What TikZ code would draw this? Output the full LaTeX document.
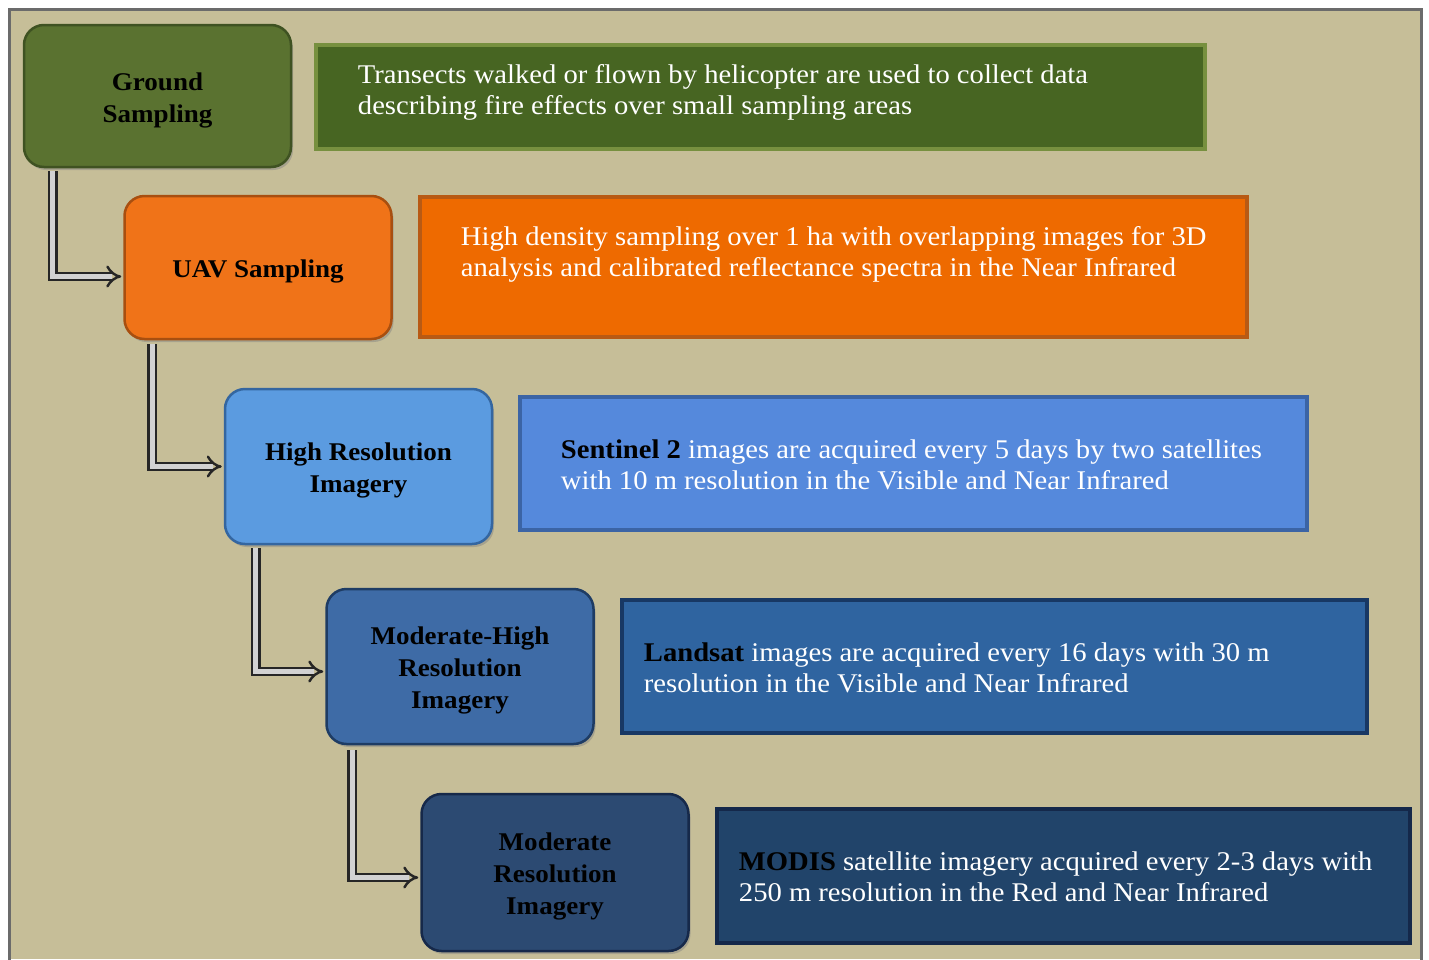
\documentclass[tikz,border=0pt]{standalone}
\usepackage{fontspec}
\setmainfont[FakeStretch=1.06]{Liberation Serif}
\usetikzlibrary{arrows.meta, shadows}

\definecolor{bgtan}{HTML}{C6BE98}
\definecolor{framegray}{HTML}{6B6B6B}
\definecolor{grnbox}{HTML}{5A7230}
\definecolor{grnedge}{HTML}{3F5222}
\definecolor{grnfill}{HTML}{476522}
\definecolor{grnline}{HTML}{77903F}
\definecolor{orgbox}{HTML}{F07318}
\definecolor{orgedge}{HTML}{A84F10}
\definecolor{orgfill}{HTML}{EE6A00}
\definecolor{orgline}{HTML}{B85A14}
\definecolor{ltbbox}{HTML}{5B9BE0}
\definecolor{ltbedge}{HTML}{3466A0}
\definecolor{ltbfill}{HTML}{5589DC}
\definecolor{ltbline}{HTML}{3B64A5}
\definecolor{midbox}{HTML}{3E6BA6}
\definecolor{midedge}{HTML}{1E3C64}
\definecolor{midfill}{HTML}{2F64A0}
\definecolor{midline}{HTML}{183864}
\definecolor{dkbbox}{HTML}{2C4A72}
\definecolor{dkbedge}{HTML}{16294A}
\definecolor{dkbfill}{HTML}{21446A}
\definecolor{dkbline}{HTML}{14284A}

% strut that lowers the stage titles a little
\newcommand{\stagestrut}{\rule{0pt}{26pt}}

\tikzset{
  stagebox/.style={rounded corners=20pt, line width=2.5pt, align=center,
    minimum width=267pt, font=\fontsize{25.5}{32}\selectfont\bfseries,
    drop shadow={shadow xshift=2pt, shadow yshift=-3pt, opacity=0.45}},
  descbox/.style={line width=4.5pt, minimum width=#1},
  desctext/.style={text=white, align=left, anchor=north west, inner sep=0pt,
    font=\fontsize{27}{31}\selectfont},
  elbow/.style={draw=black!85, line width=2.4pt, double=gray!35,
    double distance=5pt, -{Implies}, shorten >=2pt}
}

\begin{document}
\begin{tikzpicture}[x=1pt, y=-1pt]
    \useasboundingbox (0,0) rectangle (1429,959);
    % Frame
    \fill[bgtan] (11,11) rectangle (1420,959);
    \draw[framegray, line width=3pt] (9.5,962) -- (9.5,9.5) -- (1421.5,9.5) -- (1421.5,962);

    % Stages
    \node[stagebox, fill=grnbox, draw=grnedge, minimum height=142pt] (ground) at (157.5,96) {\stagestrut Ground\\Sampling};
    \node[stagebox, fill=orgbox, draw=orgedge, minimum height=143pt] (uav) at (258,267.5) {\stagestrut UAV Sampling};
    \node[stagebox, fill=ltbbox, draw=ltbedge, minimum height=155pt] (hires) at (358.5,466.5) {\stagestrut High Resolution\\Imagery};
    \node[stagebox, fill=midbox, draw=midedge, minimum height=155pt] (modhigh) at (460,666.5) {\stagestrut Moderate-High\\Resolution\\Imagery};
    \node[stagebox, fill=dkbbox, draw=dkbedge, minimum height=157pt] (moderate) at (555,872.5) {\stagestrut Moderate\\Resolution\\Imagery};

    % Descriptions
    \node[descbox=889pt, fill=grnfill, draw=grnline, minimum height=104pt] (grounddesc) at (760.5,97) {};
    \node[descbox=827pt, fill=orgfill, draw=orgline, minimum height=140pt] (uavdesc) at (833.5,267) {};
    \node[descbox=787pt, fill=ltbfill, draw=ltbline, minimum height=133pt] (hiresdesc) at (913.5,463.5) {};
    \node[descbox=745pt, fill=midfill, draw=midline, minimum height=133pt] (modhighdesc) at (994.5,666.5) {};
    \node[descbox=693pt, fill=dkbfill, draw=dkbline, minimum height=134pt] (moderatedesc) at (1063.5,876) {};

    \node[desctext] (groundtxt) at ([xshift=44pt, yshift=-22pt]grounddesc.north west)
      {Transects walked or flown by helicopter are used to collect data\\describing fire effects over small sampling areas};
    \node[desctext] (uavtxt) at ([xshift=43pt, yshift=-32pt]uavdesc.north west)
      {High density sampling over 1 ha with overlapping images for 3D\\analysis and calibrated reflectance spectra in the Near Infrared};
    \node[desctext] (hirestxt) at ([xshift=43pt, yshift=-45pt]hiresdesc.north west)
      {\textcolor{black}{\bfseries Sentinel 2} images are acquired every 5 days by two satellites\\with 10 m resolution in the Visible and Near Infrared};
    \node[desctext] (modhightxt) at ([xshift=24pt, yshift=-45pt]modhighdesc.north west)
      {\textcolor{black}{\bfseries Landsat} images are acquired every 16 days with 30 m\\resolution in the Visible and Near Infrared};
    \node[desctext] (moderatetxt) at ([xshift=24pt, yshift=-45pt]moderatedesc.north west)
      {\textcolor{black}{\bfseries MODIS} satellite imagery acquired every 2-3 days with\\250 m resolution in the Red and Near Infrared};

    % Elbow arrows
    \draw[elbow] ([xshift=30pt, yshift=-3pt]ground.south west) |- ([yshift=-9pt]uav.west);
    \draw[elbow] ([xshift=29pt, yshift=-4pt]uav.south west) |- (hires.west);
    \draw[elbow] ([xshift=32pt, yshift=-3pt]hires.south west) |- ([yshift=-5pt]modhigh.west);
    \draw[elbow] ([xshift=27pt, yshift=-5pt]modhigh.south west) |- ([yshift=-5pt]moderate.west);
\end{tikzpicture}
\end{document}
